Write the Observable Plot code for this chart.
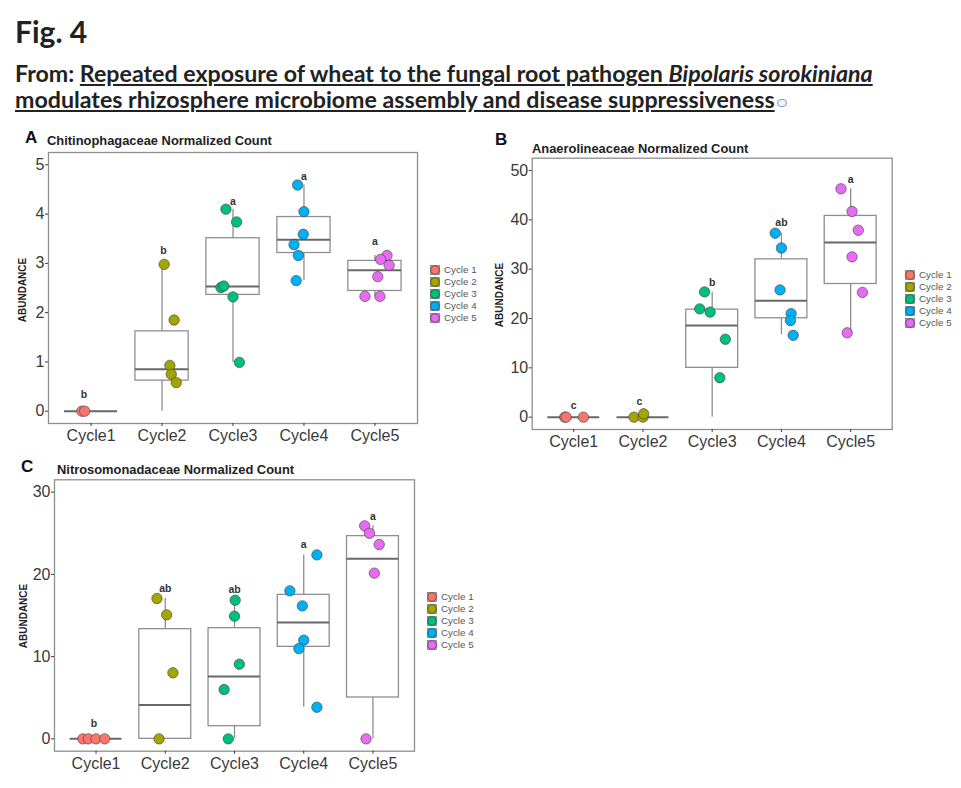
<!DOCTYPE html>
<html>
<head>
<meta charset="utf-8">
<script src="https://cdn.jsdelivr.net/npm/d3@7"></script>
<script src="https://cdn.jsdelivr.net/npm/@observablehq/plot@0.6"></script>
<style>
  body { margin: 0; background: #fff; }
  #page { position: relative; width: 961px; height: 788px; overflow: hidden; background: #fff; }
  .abs { position: absolute; }
  .hdr { font-family: Lato, "Open Sans", sans-serif; font-weight: bold; color: #222; white-space: nowrap; }
  .ptitle { font-family: "Liberation Sans", Arial, sans-serif; font-weight: bold; font-size: 12.9px; color: #222; white-space: nowrap; line-height: 1; }
  .plabel { font-family: "Liberation Sans", Arial, sans-serif; font-weight: bold; font-size: 17px; color: #111; line-height: 1; }
  .ylab { font-family: "Liberation Sans", Arial, sans-serif; font-weight: bold; font-size: 10px; color: #222; transform: translate(-50%, -50%) rotate(-90deg); white-space: nowrap; line-height: 1; }
  .legend { font-family: "Liberation Sans", Arial, sans-serif; font-size: 9.8px; color: #555; line-height: 12px; }
  .legend .row { display: flex; align-items: center; height: 12px; }
  .legend svg { margin-right: 4px; }
</style>
</head>
<body>
<div id="page"></div>
<script>
// ---------- data ----------
const cycles = ["Cycle1", "Cycle2", "Cycle3", "Cycle4", "Cycle5"];
const legendLabels = ["Cycle 1", "Cycle 2", "Cycle 3", "Cycle 4", "Cycle 5"];
const cycleColors = ["#F8766D", "#A3A500", "#00BF7D", "#00B0F6", "#E76BF3"];

// Panel A: Chitinophagaceae
const chitValues = [
  [0, 0],
  [2.98, 1.85, 0.93, 0.75, 0.58],
  [4.10, 3.84, 2.51, 2.54, 2.32, 0.99],
  [4.59, 4.05, 3.59, 3.38, 3.16, 2.65],
  [3.16, 3.08, 2.96, 2.73, 2.33, 2.33]
];
const chitJitter = [
  [-0.13, -0.09],
  [0.03, 0.17, 0.11, 0.13, 0.20],
  [-0.10, 0.05, -0.17, -0.13, 0.00, 0.09],
  [-0.09, 0.00, -0.01, -0.14, -0.08, -0.11],
  [0.17, 0.08, 0.20, 0.04, -0.14, 0.07]
];
// [lower whisker, Q1, median, Q3, upper whisker]
const chitStats = [
  [0, 0, 0, 0, 0],
  [0, 0.62, 0.85, 1.62, 2.98],
  [0.99, 2.36, 2.53, 3.51, 4.10],
  [2.65, 3.21, 3.48, 3.94, 4.59],
  [2.33, 2.44, 2.86, 3.05, 3.16]
];
const chitLetters = ["b", "b", "a", "a", "a"];
const chitLetterY = [0.33, 3.25, 4.26, 4.76, 3.44];
const chitLetterDx = [-0.1, 0.02, 0, 0, 0];
const chitTicks = [0, 1, 2, 3, 4, 5];

// Panel B: Anaerolineaceae
const anaeValues = [
  [0, 0, 0],
  [0, 0, 0.68],
  [25.4, 21.95, 21.3, 15.8, 8.0],
  [37.3, 34.3, 25.8, 21.0, 19.6, 16.6],
  [46.3, 41.7, 37.9, 32.5, 25.3, 17.1]
];
const anaeJitter = [
  [-0.13, -0.11, 0.14],
  [-0.13, 0.00, 0.01],
  [-0.11, -0.18, -0.03, 0.19, 0.11],
  [-0.09, 0.00, -0.02, 0.14, 0.13, 0.17],
  [-0.14, 0.02, 0.11, 0.02, 0.17, -0.05]
];
const anaeStats = [
  [0, 0, 0, 0, 0],
  [0, 0, 0, 0, 0],
  [0, 10.0, 18.6, 21.8, 25.4],
  [16.7, 20.05, 23.6, 32.0, 37.3],
  [17.1, 27.0, 35.4, 40.8, 46.3]
];
const anaeLetters = ["c", "c", "b", "ab", "a"];
const anaeLetterY = [2.37, 3.05, 27.3, 39.5, 48.2];
const anaeLetterDx = [0, -0.05, 0, 0, 0];
const anaeTicks = [0, 10, 20, 30, 40, 50];

// Panel C: Nitrosomonadaceae
const nitrValues = [
  [0, 0, 0, 0],
  [17.07, 15.08, 8.03, 0],
  [16.86, 14.92, 9.08, 6.0, 0],
  [22.37, 18.0, 16.17, 12.0, 10.98, 3.85],
  [25.9, 25.0, 23.63, 20.15, 0]
];
const nitrJitter = [
  [-0.19, -0.11, 0.00, 0.125],
  [-0.12, 0.02, 0.11, -0.09],
  [0.01, 0.00, 0.07, -0.15, -0.09],
  [0.19, -0.20, -0.02, 0.00, -0.07, 0.19],
  [-0.12, -0.05, 0.09, 0.02, -0.10]
];
const nitrStats = [
  [0, 0, 0, 0, 0],
  [0, 0, 4.13, 13.34, 17.07],
  [0, 1.54, 7.58, 13.46, 16.86],
  [3.85, 11.19, 14.15, 17.51, 22.37],
  [0, 5.03, 21.9, 24.65, 25.9]
];
const nitrLetters = ["b", "ab", "ab", "a", "a"];
const nitrLetterY = [1.9, 18.24, 18.2, 23.67, 27.08];
const nitrLetterDx = [-0.03, 0, 0, 0, 0];
const nitrTicks = [0, 10, 20, 30];

// ---------- drawing ----------
const page = document.getElementById("page");

function addDiv(cls, left, top, html) {
  const d = document.createElement("div");
  d.className = "abs " + cls;
  d.style.left = left + "px";
  d.style.top = top + "px";
  d.innerHTML = html;
  page.appendChild(d);
  return d;
}

function panel({values, jitter, stats, letters, letterY, letterDx, yDomain, yTicks, width, height, margins}) {
  const pts = values.flatMap((vs, i) => vs.map((v, j) => ({c: i + 1, x: i + 1 + jitter[i][j], y: v})));
  const boxes = stats.map((s, i) => ({c: i + 1, lo: s[0], q1: s[1], med: s[2], q3: s[3], hi: s[4]}));
  const labs = letters.map((t, i) => ({x: i + 1 + letterDx[i], y: letterY[i], t}));
  return Plot.plot({
    width, height, ...margins,
    x: {domain: [0.4, 5.6]},
    y: {domain: yDomain},
    color: {type: "identity"},
    style: {fontFamily: "'Liberation Sans', Arial, sans-serif", color: "#3a3a3a", background: "transparent", overflow: "visible"},
    marks: [
      Plot.ruleX(boxes, {x: "c", y1: "lo", y2: "hi", stroke: "#8f8f8f", strokeWidth: 1.3}),
      Plot.rect(boxes, {x1: d => d.c - 0.375, x2: d => d.c + 0.375, y1: "q1", y2: "q3", fill: "white", stroke: "#8f8f8f", strokeWidth: 1.3}),
      Plot.ruleY(boxes, {y: "med", x1: d => d.c - 0.375, x2: d => d.c + 0.375, stroke: "#686868", strokeWidth: 2}),
      Plot.dot(pts, {x: "x", y: "y", r: 5.2, fill: d => cycleColors[d.c - 1], stroke: "#3a3a3a", strokeWidth: 0.6}),
      Plot.text(labs, {x: "x", y: "y", text: "t", fontSize: 10.5, fontWeight: "bold", fill: "#333"}),
      Plot.frame({stroke: "#8f8f8f", strokeWidth: 1.3}),
      Plot.axisX({ticks: [1, 2, 3, 4, 5], tickFormat: d => cycles[d - 1], fontSize: 16, tickSize: 3, tickPadding: 3, label: null, color: "#3a3a3a"}),
      Plot.axisY({ticks: yTicks, tickFormat: d => String(d), fontSize: 16, tickSize: 3, tickPadding: 1, label: null, color: "#3a3a3a"})
    ]
  });
}

function legend(left, top) {
  const d = addDiv("legend", left, top, "");
  legendLabels.forEach((lab, i) => {
    const row = document.createElement("div");
    row.className = "row";
    row.innerHTML = `<svg width="10" height="10" viewBox="0 0 10 10"><rect x="0.5" y="0.5" width="9" height="9" fill="${cycleColors[i]}" stroke="#666" stroke-width="0.6"/><circle cx="5" cy="5" r="4.3" fill="${cycleColors[i]}" stroke="#333" stroke-width="0.6"/></svg><span>${lab}</span>`;
    d.appendChild(row);
  });
}

function placeSvg(svg, left, top) {
  svg.style.position = "absolute";
  svg.style.left = left + "px";
  svg.style.top = top + "px";
  page.appendChild(svg);
}

// Header
addDiv("hdr", 15, 13, "Fig. 4").style.fontSize = "30px";
const sub = addDiv("hdr", 15, 60, 'From: <span style="text-decoration:underline;text-underline-offset:2px">Repeated exposure of wheat to the fungal root pathogen <i>Bipolaris sorokiniana</i><br>modulates rhizosphere microbiome assembly and disease suppressiveness</span><span style="display:inline-block;width:8px;height:6px;border:1px solid #7aa0c8;border-radius:4px;margin-left:2px;vertical-align:1px;background:#eef4fb"></span>');
sub.style.fontSize = "23.2px";
sub.style.lineHeight = "26px";

// Panel A
placeSvg(panel({values: chitValues, jitter: chitJitter, stats: chitStats, letters: chitLetters, letterY: chitLetterY, letterDx: chitLetterDx,
  yDomain: [-0.25, 5.25], yTicks: chitTicks, width: 480, height: 330,
  margins: {marginLeft: 48, marginRight: 63, marginTop: 27, marginBottom: 32}}), 0, 125);
addDiv("plabel", 25, 129, "A");
addDiv("ptitle", 47, 135, "Chitinophagaceae Normalized Count");
addDiv("ylab", 23, 290, "ABUNDANCE");
legend(430, 264);

// Panel B
placeSvg(panel({values: anaeValues, jitter: anaeJitter, stats: anaeStats, letters: anaeLetters, letterY: anaeLetterY, letterDx: anaeLetterDx,
  yDomain: [-2.5, 52.5], yTicks: anaeTicks, width: 481, height: 330,
  margins: {marginLeft: 51.7, marginRight: 69.3, marginTop: 32.7, marginBottom: 26}}), 480, 125);
addDiv("plabel", 495, 131, "B");
addDiv("ptitle", 532, 143, "Anaerolineaceae Normalized Count");
addDiv("ylab", 500, 295, "ABUNDANCE");
legend(905, 269);

// Panel C
placeSvg(panel({values: nitrValues, jitter: nitrJitter, stats: nitrStats, letters: nitrLetters, letterY: nitrLetterY, letterDx: nitrLetterDx,
  yDomain: [-1.5, 31.5], yTicks: nitrTicks, width: 480, height: 333,
  margins: {marginLeft: 54, marginRight: 66, marginTop: 24.3, marginBottom: 37.3}}), 0, 455);
addDiv("plabel", 21, 458, "C");
addDiv("ptitle", 57, 464, "Nitrosomonadaceae Normalized Count");
addDiv("ylab", 24, 616, "ABUNDANCE");
legend(427, 591);
</script>
</body>
</html>
